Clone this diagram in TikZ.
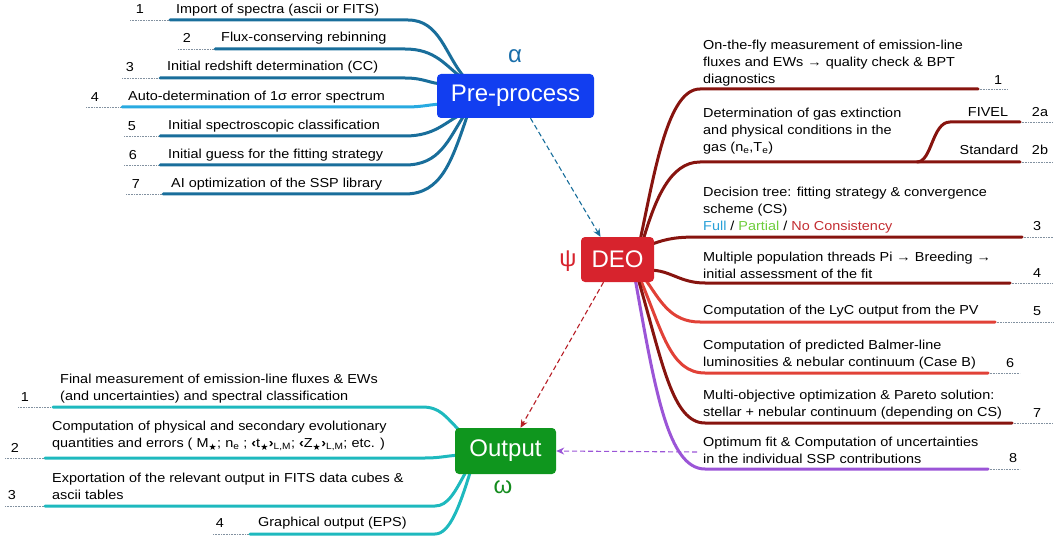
\documentclass[tikz,border=0pt]{standalone}
\usepackage{fontspec}
\setmainfont{Liberation Sans}[FakeStretch=1.11]
\newfontfamily\bigfont{Liberation Sans}
\newfontfamily\symfont{DejaVu Sans}
\usetikzlibrary{calc,arrows.meta}
\definecolor{preblue}{RGB}{18,62,240}
\definecolor{prebr}{RGB}{25,110,155}
\definecolor{prelight}{RGB}{40,170,225}
\definecolor{alphac}{RGB}{25,110,170}
\definecolor{deored}{RGB}{215,35,45}
\definecolor{darkred}{RGB}{135,20,15}
\definecolor{lightred}{RGB}{225,65,55}
\definecolor{purp}{RGB}{155,85,215}
\definecolor{outgreen}{RGB}{15,150,30}
\definecolor{outteal}{RGB}{30,185,190}
\definecolor{omegac}{RGB}{20,140,30}
\definecolor{fullc}{RGB}{40,160,215}
\definecolor{partialc}{RGB}{110,205,60}
\definecolor{noconsc}{RGB}{195,45,50}
\definecolor{dotc}{RGB}{130,145,160}
\pgfdeclarelayer{bg}
\pgfsetlayers{bg,main}
\begin{document}
\begin{tikzpicture}[x=1pt,y=-1pt,
  itm/.style={font=\fontsize{13}{17}\selectfont, inner sep=0pt, anchor=west, align=left},
  num/.style={font=\fontsize{13}{17}\selectfont, inner sep=0pt},
  bigbox/.style={rounded corners=4pt, inner sep=0pt, text=white, font=\bigfont\fontsize{24}{24}\selectfont},
  greek/.style={inner sep=0pt, font=\bigfont\fontsize{24}{24}\selectfont},
  thick line/.style={line width=3pt, line cap=round},
  dotline/.style={line width=0.6pt, dotc, dash pattern=on 0.8pt off 0.8pt},
  dasharr/.style={line width=1.1pt, dash pattern=on 5pt off 3pt, -{Stealth[length=8pt,width=7pt]}}
]
\useasboundingbox (0,0) rectangle (1057,540);

% ---- main nodes
\node[bigbox, fill=preblue, minimum width=157pt, minimum height=44pt] (pre) at (515.5,96) {Pre-process};
\node[bigbox, fill=deored, minimum width=73pt, minimum height=45pt] (deo) at (617.5,259.5) {DEO};
\node[bigbox, fill=outgreen, minimum width=101pt, minimum height=46pt] (out) at (505.5,451) {Output};
\node[greek, text=alphac] (alpha) at (515,56) {α};
\node[greek, text=deored] (psi) at (568,261) {ψ};
\node[greek, text=omegac] (omega) at (503,487) {ω};

% ---- Pre-process items
\node[itm] (p1) at (176,10) {Import of spectra (ascii or FITS)};
\node[num] (p1n) at (140,9) {1};
\node[itm] (p2) at (221,38) {Flux-conserving rebinning};
\node[num] (p2n) at (187,38) {2};
\node[itm] (p3) at (167,67) {Initial redshift determination (CC)};
\node[num] (p3n) at (130,67) {3};
\node[itm] (p4) at (128,97) {Auto-determination of 1σ error spectrum};
\node[num] (p4n) at (95,97) {4};
\node[itm] (p5) at (168,126) {Initial spectroscopic classification};
\node[num] (p5n) at (132,126) {5};
\node[itm] (p6) at (168,155) {Initial guess for the fitting strategy};
\node[num] (p6n) at (133,155) {6};
\node[itm] (p7) at (171,184) {AI optimization of the SSP library};
\node[num] (p7n) at (136,184) {7};

% ---- DEO items
\node[itm] (d1) at (703,63) {On-the-fly measurement of emission-line\\fluxes and EWs → quality check \& BPT\\diagnostics};
\node[num] (d1n) at (998,80) {1};
\node[itm] (d2) at (703,131) {Determination of gas extinction\\and physical conditions in the\\gas (n\textsubscript{e},T\textsubscript{e})};
\node[num] (fivel) at (988,112) {FIVEL};
\node[num] (d2an) at (1040,112) {2a};
\node[num] (std) at (989,150) {Standard};
\node[num] (d2bn) at (1040,150) {2b};
\node[itm] (d3) at (703,210) {Decision tree: fitting strategy \& convergence\\scheme (CS)\\\textcolor{fullc}{Full} / \textcolor{partialc}{Partial} / \textcolor{noconsc}{No Consistency}};
\node[num] (d3n) at (1037,226) {3};
\node[itm] (d4) at (703,265) {Multiple population threads Pi → Breeding →\\initial assessment of the fit};
\node[num] (d4n) at (1037,273) {4};
\node[itm] (d5) at (703,311) {Computation of the LyC output from the PV};
\node[num] (d5n) at (1037,311) {5};
\node[itm] (d6) at (703,355) {Computation of predicted Balmer-line\\luminosities \& nebular continuum (Case B)};
\node[num] (d6n) at (1010,363) {6};
\node[itm] (d7) at (703,404.5) {Multi-objective optimization \& Pareto solution:\\stellar + nebular continuum (depending on CS)};
\node[num] (d7n) at (1037,413) {7};
\node[itm] (d8) at (703,450.5) {Optimum fit \& Computation of uncertainties\\in the individual SSP contributions};
\node[num] (d8n) at (1013,458) {8};

% ---- Output items
\node[itm] (o1) at (60,389) {Final measurement of emission-line fluxes \& EWs\\(and uncertainties) and spectral classification};
\node[num] (o1n) at (25,397) {1};
\node[itm] (o2) at (52,436) {Computation of physical and secondary evolutionary\\quantities and errors ( M\textsubscript{\symfont★}; n\textsubscript{e} ; \textbf{‹}t\textsubscript{\symfont★}\textbf{›}\textsubscript{L,M}; \textbf{‹}Z\textsubscript{\symfont★}\textbf{›}\textsubscript{L,M}; etc. )};
\node[num] (o2n) at (15,448) {2};
\node[itm] (o3) at (52,486) {Exportation of the relevant output in FITS data cubes \&\\ascii tables};
\node[num] (o3n) at (12,495) {3};
\node[itm] (o4) at (258,523) {Graphical output (EPS)};
\node[num] (o4n) at (220,523) {4};

\begin{pgfonlayer}{bg}
% Pre-process branches
\foreach \ya/\xs/\xd in {20/170/130, 49/215/178, 78/160/122, 136/160/124, 165/160/124, 194/163/126} {
  \draw[dotline] (\xd,\ya) -- (\xs,\ya);
}
\draw[dotline] (86,107) -- (122,107);
\coordinate (a1) at (170,20);  \coordinate (b1) at (408,20);
\coordinate (a2) at (215,49);  \coordinate (b2) at (405,49);
\coordinate (a3) at (160,78);  \coordinate (b3) at (405,78);
\coordinate (a4) at (122,107); \coordinate (b4) at (405,107);
\coordinate (a5) at (160,136); \coordinate (b5) at (405,136);
\coordinate (a6) at (160,165); \coordinate (b6) at (405,165);
\coordinate (a7) at (163,194); \coordinate (b7) at (405,194);
\draw[thick line, prebr] ($(pre.north west)+(28,4)$) .. controls (445,55) and (440,20) .. (b1) -- (a1);
\draw[thick line, prebr] ($(pre.north west)+(25,4)$) .. controls (445,65) and (435,49) .. (b2) -- (a2);
\draw[thick line, prebr] ($(pre.west)+(8,-12)$) .. controls (430,84) and (425,78) .. (b3) -- (a3);
\draw[thick line, prelight] ($(pre.west)+(8,8)$) .. controls (430,104) and (425,107) .. (b4) -- (a4);
\draw[thick line, prebr] ($(pre.south west)+(25,-4)$) .. controls (445,122) and (435,136) .. (b5) -- (a5);
\draw[thick line, prebr] ($(pre.south west)+(28,-4)$) .. controls (448,140) and (440,165) .. (b6) -- (a6);
\draw[thick line, prebr] ($(pre.south west)+(31,-4)$) .. controls (452,160) and (442,194) .. (b7) -- (a7);

% DEO branches
\coordinate (e1) at (978,89);   \draw[dotline] (e1) -- (1007,89);
\coordinate (e2) at (1020,162); \draw[dotline] (e2) -- (1053,162);
\coordinate (e2a) at (1020,122); \draw[dotline] (e2a) -- (1053,122);
\coordinate (e3) at (1022,237); \draw[dotline] (e3) -- (1053,237);
\coordinate (e4) at (1010,283); \draw[dotline] (e4) -- (1053,283);
\coordinate (e5) at (995,322);  \draw[dotline] (e5) -- (1053,322);
\coordinate (e6) at (988,373);  \draw[dotline] (e6) -- (1020,373);
\coordinate (e7) at (1012,423); \draw[dotline] (e7) -- (1053,423);
\coordinate (e8) at (988,469);  \draw[dotline] (e8) -- (1020,469);
\coordinate (fork) at (917,162);
\draw[thick line, darkred] ($(deo.north east)+(-14,3)$) .. controls (655,170) and (668,89) .. (700,89) -- (e1);
\draw[thick line, darkred] ($(deo.north east)+(-11,3)$) .. controls (655,200) and (670,162) .. (700,162) -- (e2);
\draw[thick line, darkred] (fork) .. controls (932,162) and (932,122) .. (950,122) -- (e2a);
\draw[thick line, darkred] ($(deo.north east)+(-4,8)$) .. controls (668,238) and (678,237) .. (700,237) -- (e3);
\draw[thick line, darkred] ($(deo.south east)+(-4,-12)$) .. controls (670,270) and (680,283) .. (705,283) -- (e4);
\draw[thick line, lightred] ($(deo.south east)+(-9,-3)$) .. controls (660,300) and (670,322) .. (700,322) -- (e5);
\draw[thick line, lightred] ($(deo.south east)+(-14,-3)$) .. controls (662,330) and (670,373) .. (705,373) -- (e6);
\draw[thick line, darkred] ($(deo.south east)+(-16,-3)$) .. controls (662,360) and (672,423) .. (705,423) -- (e7);
\draw[thick line, purp] ($(deo.south east)+(-19,-3)$) .. controls (655,390) and (668,469) .. (705,469) -- (e8);

% Output branches
\coordinate (f1) at (53,407);  \draw[dotline] (18,407) -- (f1);
\coordinate (f2) at (45,458);  \draw[dotline] (5,458) -- (f2);
\coordinate (f3) at (45,506);  \draw[dotline] (5,506) -- (f3);
\coordinate (f4) at (250,534); \draw[dotline] (213,534) -- (f4);
\draw[thick line, outteal] ($(out.north west)+(5,3)$) .. controls (445,416) and (440,407) .. (422,407) -- (f1);
\draw[thick line, outteal] ($(out.west)+(5,4)$) .. controls (445,456) and (440,458) .. (425,458) -- (f2);
\draw[thick line, outteal] ($(out.south west)+(12,-4)$) .. controls (455,492) and (448,506) .. (435,506) -- (f3);
\draw[thick line, outteal] ($(out.south west)+(16,-4)$) .. controls (460,505) and (450,534) .. (435,534) -- (f4);

% dashed flow arrows
\coordinate (pstart) at (697,452);
\draw[dasharr, prebr] ($(pre.south)+(15,0)$) -- ($(deo.north)+(-17,0)$);
\draw[dasharr, deored!85!black] ($(deo.south)+(-14,0)$) -- ($(out.north)+(15,0)$);
\draw[dasharr, purp] (pstart) -- (out.east);
\end{pgfonlayer}
\end{tikzpicture}
\end{document}
